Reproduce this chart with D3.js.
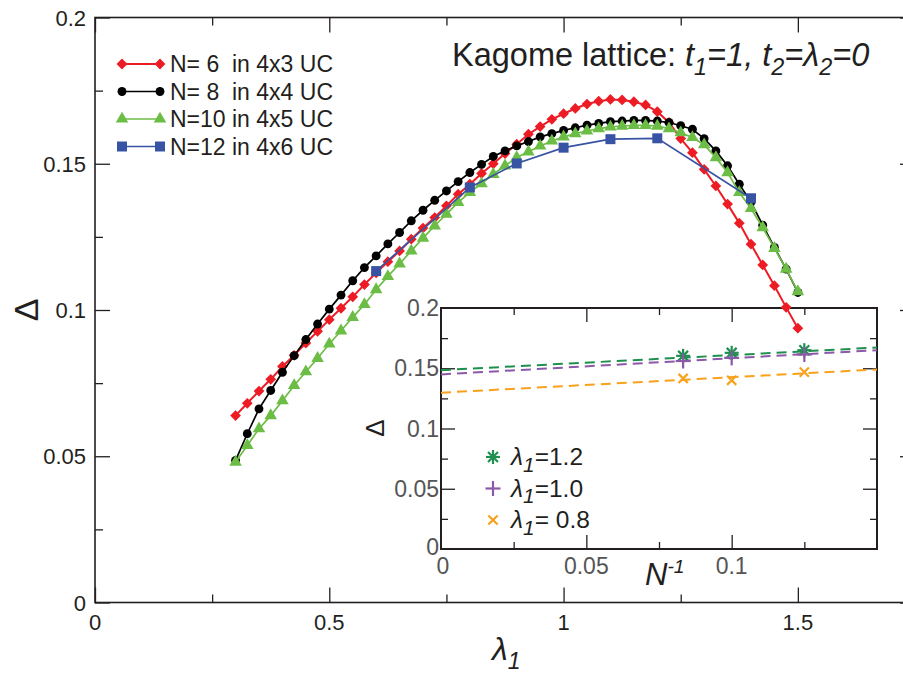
<!DOCTYPE html>
<html>
<head>
<meta charset="utf-8">
<script src="https://cdn.jsdelivr.net/npm/d3@7"></script>
<style>
  body { margin: 0; background: #fff; }
  svg { display: block; font-family: "Liberation Sans", Arial, sans-serif; }
  text { white-space: pre; }
</style>
</head>
<body>
<svg id="chart"></svg>
<script>
// lambda_1 grid of the N=6, 8, 10 runs
const lambdaGrid = [0.3, 0.325, 0.35, 0.375, 0.4, 0.425, 0.45, 0.475, 0.5, 0.525,
  0.55, 0.575, 0.6, 0.625, 0.65, 0.675, 0.7, 0.725, 0.75, 0.775,
  0.8, 0.825, 0.85, 0.875, 0.9, 0.925, 0.95, 0.975, 1.0, 1.025,
  1.05, 1.075, 1.1, 1.125, 1.15, 1.175, 1.2, 1.225, 1.25, 1.275,
  1.3, 1.325, 1.35, 1.375, 1.4, 1.425, 1.45, 1.475, 1.5];

const gapN6 = [0.0639, 0.0681, 0.0723, 0.0763, 0.0807, 0.0845, 0.0887, 0.0927, 0.0967, 0.1006,
  0.1045, 0.1087, 0.1127, 0.1165, 0.1202, 0.1242, 0.128, 0.1316, 0.1356, 0.1396,
  0.143, 0.1467, 0.15, 0.1535, 0.1567, 0.1601, 0.1627, 0.1652, 0.1671, 0.1689,
  0.1704, 0.1714, 0.172, 0.1718, 0.1712, 0.1701, 0.1678, 0.1641, 0.1586, 0.1538,
  0.1481, 0.1424, 0.1362, 0.1297, 0.1225, 0.1154, 0.1083, 0.1009, 0.0938];

const gapN8 = [0.0486, 0.0577, 0.0662, 0.0725, 0.0787, 0.0844, 0.0899, 0.0952, 0.1003, 0.1051,
  0.11, 0.1145, 0.1185, 0.1226, 0.1265, 0.1305, 0.1341, 0.1375, 0.1407, 0.1439,
  0.147, 0.1498, 0.1525, 0.1544, 0.1561, 0.1576, 0.1592, 0.1603, 0.1614, 0.1623,
  0.1632, 0.1638, 0.1644, 0.1646, 0.1648, 0.1648, 0.1646, 0.1641, 0.163, 0.1618,
  0.1586, 0.1544, 0.1493, 0.143, 0.1369, 0.129, 0.1214, 0.114, 0.106];

const gapN10 = [0.048, 0.0537, 0.0594, 0.0639, 0.069, 0.0742, 0.0789, 0.0835, 0.0884, 0.0929,
  0.0975, 0.1019, 0.107, 0.1115, 0.1158, 0.1202, 0.1246, 0.1288, 0.1328, 0.1368,
  0.1402, 0.1432, 0.1464, 0.1493, 0.1521, 0.1541, 0.1561, 0.1578, 0.1592, 0.1603,
  0.1612, 0.162, 0.1626, 0.1629, 0.1631, 0.1631, 0.1629, 0.162, 0.1606, 0.159,
  0.1565, 0.1521, 0.147, 0.1402, 0.1347, 0.1282, 0.1211, 0.114, 0.1063];

const lambdaN12 = [0.6, 0.8, 0.9, 1.0, 1.1, 1.2, 1.4];
const gapN12 = [0.1133, 0.1419, 0.1501, 0.1555, 0.1584, 0.1587, 0.1382];

const legendLabels = ["N= 6  in 4x3 UC", "N= 8  in 4x4 UC", "N=10 in 4x5 UC", "N=12 in 4x6 UC"];

// inset: finite-size scaling against 1/N (N = 12, 10, 8)
const invN = [0.0833, 0.1, 0.125];
const gapL12 = [0.1603, 0.1628, 0.165];
const gapL10 = [0.156, 0.1586, 0.1614];
const gapL08 = [0.1415, 0.140, 0.1468];
const fitX = [0, 0.15];
const fitL12 = [0.1484, 0.1672];
const fitL10 = [0.1449, 0.165];
const fitL08 = [0.1297, 0.149];
const insetLabels = ["=1.2", "=1.0", "= 0.8"];

// tick values
const xMajor = [0, 0.5, 1, 1.5];
const xMinor = [0.25, 0.75, 1.25];
const yMajor = [0, 0.05, 0.1, 0.15, 0.2];
const yMinor = [0.025, 0.075, 0.125, 0.175];
const ixMajor = [0.05, 0.1];
const ixMinor = [0.025, 0.075, 0.125];
const iyMajor = [0.05, 0.1, 0.15];
const iyMinor = [0.025, 0.075, 0.125, 0.175];
const ixLabels = [0, 0.05, 0.1];
const iyLabels = [0, 0.05, 0.1, 0.15, 0.2];

const width = 903, height = 675;
const ink = "#231f20";

const svg = d3.select("#chart").attr("width", width).attr("height", height);

const x = d3.scaleLinear().domain([0, 1.75]).range([95, 915]);
const y = d3.scaleLinear().domain([0, 0.2]).range([602.5, 17.5]);

const ix = d3.scaleLinear().domain([0, 0.15]).range([441, 877]);
const iy = d3.scaleLinear().domain([0, 0.2]).range([549, 308]);

// inward ticks on all four sides of a box
function boxTicks(g, xs, ys, xMaj, xMin, yMaj, yMin, big, small) {
  const [x0, x1] = xs.range(), [y0, y1] = ys.range();
  const add = (axis, t) => {
    const a = g.append("g").attr("transform", t).call(axis.tickFormat("").tickSizeOuter(0));
    a.select(".domain").remove();
    a.selectAll("line").attr("stroke", ink).attr("stroke-width", 1.3);
  };
  [[xMaj, big], [xMin, small]].forEach(([v, s]) => {
    add(d3.axisTop(xs).tickValues(v).tickSize(s), `translate(0,${y0})`);
    add(d3.axisBottom(xs).tickValues(v).tickSize(s), `translate(0,${y1})`);
  });
  [[yMaj, big], [yMin, small]].forEach(([v, s]) => {
    add(d3.axisRight(ys).tickValues(v).tickSize(s), `translate(${x0},0)`);
    add(d3.axisLeft(ys).tickValues(v).tickSize(s), `translate(${x1},0)`);
  });
}

// text with sub/superscripts: parts = [[text, {it, sub, sup, scale}]]
function richText(g, px, py, parts, size, opts = {}) {
  const t = g.append("text").attr("x", px).attr("y", py)
    .attr("font-size", size).attr("fill", opts.fill || ink)
    .attr("text-anchor", opts.anchor || "start");
  if (opts.rotate) t.attr("transform", `rotate(${opts.rotate},${px},${py})`);
  let shift = 0;
  parts.forEach(([s, o = {}]) => {
    const ts = t.append("tspan").text(s);
    if (o.it) ts.attr("font-style", "italic");
    let target = 0;
    if (o.sub) target = size * 0.28;
    if (o.sup) target = -size * 0.38;
    if (o.sub || o.sup) ts.attr("font-size", size * (o.scale || 0.72));
    if (target !== shift) { ts.attr("dy", target - shift); shift = target; }
  });
  return t;
}

// ---------- main frame ----------
const main = svg.append("g");
main.append("rect")
  .attr("x", 95).attr("y", y(0.2))
  .attr("width", x(1.75) - 95).attr("height", y(0) - y(0.2))
  .attr("fill", "none").attr("stroke", ink).attr("stroke-width", 1.6);
boxTicks(main, x, y, xMajor, xMinor, yMajor, yMinor, 15, 8);

main.selectAll(".xl").data(xMajor).enter().append("text")
  .attr("x", d => x(d)).attr("y", y(0) + 27)
  .attr("text-anchor", "middle").attr("font-size", 22).attr("fill", ink)
  .text(d => d3.format("")(d));
main.selectAll(".yl").data(yMajor).enter().append("text")
  .attr("x", 86).attr("y", d => y(d) + 8)
  .attr("text-anchor", "end").attr("font-size", 22).attr("fill", ink)
  .text(d => d3.format("")(d));

richText(main, 492, 660, [["λ", { it: true }], ["1", { it: true, sub: true }]], 32);
richText(main, 38, y(0.1), [["Δ"]], 34, { anchor: "middle", rotate: -90 });

richText(main, 452, 66, [["Kagome lattice: "], ["t", { it: true }], ["1", { it: true, sub: true }],
  ["=1, t", { it: true }], ["2", { it: true, sub: true }], ["=λ", { it: true }],
  ["2", { it: true, sub: true }], ["=0", { it: true }]], 32.5);

// ---------- inset ----------
const inset = svg.append("g");
inset.append("rect")
  .attr("x", ix(0)).attr("y", iy(0.2))
  .attr("width", ix(0.15) - ix(0)).attr("height", iy(0) - iy(0.2))
  .attr("fill", "#fff").attr("stroke", ink).attr("stroke-width", 2);
boxTicks(inset, ix, iy, ixMajor, ixMinor, iyMajor, iyMinor, 14, 7);

inset.selectAll(".ixl").data(ixLabels).enter().append("text")
  .attr("x", d => ix(d) + (d === 0 ? 2 : 0)).attr("y", iy(0) + 25)
  .attr("text-anchor", "middle").attr("font-size", 23).attr("fill", "#555")
  .text(d => d3.format("")(d));
inset.selectAll(".iyl").data(iyLabels).enter().append("text")
  .attr("x", ix(0) - 2).attr("y", d => iy(d) + 8 - (d === 0 ? 2 : 0))
  .attr("text-anchor", "end").attr("font-size", 23).attr("fill", "#555")
  .text(d => d3.format("")(d));

richText(inset, 645, 585, [["N", { it: true }], ["-1", { it: true, sup: true, scale: 0.62 }]], 31);
richText(inset, 384, 428, [["Δ"]], 26, { anchor: "middle", rotate: -90 });

const insetSeries = [
  { vals: gapL12, fit: fitL12, color: "#1f8f4f", mark: "star" },
  { vals: gapL10, fit: fitL10, color: "#8c59a8", mark: "plus" },
  { vals: gapL08, fit: fitL08, color: "#f7a11c", mark: "cross" }
];

function drawMark(g, kind, cx, cy, color) {
  const m = g.append("g").attr("transform", `translate(${cx},${cy})`)
    .attr("stroke", color).attr("stroke-width", 2.2).attr("fill", "none");
  const seg = (a, r) => m.append("line")
    .attr("x1", -r * Math.cos(a)).attr("y1", -r * Math.sin(a))
    .attr("x2", r * Math.cos(a)).attr("y2", r * Math.sin(a));
  if (kind === "star") [0, 45, 90, 135].forEach(a => seg(a * Math.PI / 180, 7));
  if (kind === "plus") [0, 90].forEach(a => seg(a * Math.PI / 180, 7.5));
  if (kind === "cross") [45, 135].forEach(a => seg(a * Math.PI / 180, 6.5));
}

const fitLine = d3.line().x((d, i) => ix(fitX[i])).y(d => iy(d));
insetSeries.forEach(s => {
  inset.append("path").attr("d", fitLine(s.fit))
    .attr("fill", "none").attr("stroke", s.color).attr("stroke-width", 2)
    .attr("stroke-dasharray", "10,6");
});
insetSeries.forEach(s => {
  s.vals.forEach((v, i) => drawMark(inset, s.mark, ix(invN[i]), iy(v), s.color));
});

insetSeries.forEach((s, i) => {
  const ly = 457 + i * 31.5;
  drawMark(inset, s.mark, 493, ly, s.color);
  richText(inset, 511, ly + 8, [["λ", { it: true }], ["1", { it: true, sub: true, scale: 0.85 }],
    [insetLabels[i]]], 24.5);
});

// ---------- main series ----------
const series = [
  { xs: lambdaGrid, ys: gapN6, color: "#ed1c24", sym: d3.symbolSquare, size: 58, rot: 45, lw: 2 },
  { xs: lambdaGrid, ys: gapN8, color: "#000", sym: d3.symbolCircle, size: 62, rot: 0, lw: 1.7 },
  { xs: lambdaGrid, ys: gapN10, color: "#6cbd45", sym: d3.symbolTriangle, size: 68, rot: 0, lw: 1.7 },
  { xs: lambdaN12, ys: gapN12, color: "#3953a4", sym: d3.symbolSquare, size: 100, rot: 0, lw: 1.7 }
];

const line = d3.line();
const plot = svg.append("g");
series.forEach(s => {
  const pts = s.xs.map((v, i) => [x(v), y(s.ys[i])]);
  plot.append("path").attr("d", line(pts))
    .attr("fill", "none").attr("stroke", s.color).attr("stroke-width", s.lw);
  plot.selectAll(null).data(pts).enter().append("path")
    .attr("d", d3.symbol(s.sym, s.size))
    .attr("transform", d => `translate(${d[0]},${d[1]}) rotate(${s.rot})`)
    .attr("fill", s.color);
});

// main legend
const legend = svg.append("g");
series.forEach((s, i) => {
  const ly = 64 + i * 27.5;
  legend.append("line").attr("x1", 122).attr("x2", 160).attr("y1", ly).attr("y2", ly)
    .attr("stroke", s.color).attr("stroke-width", s.lw);
  [122, 160].forEach(px => legend.append("path")
    .attr("d", d3.symbol(s.sym, s.size))
    .attr("transform", `translate(${px},${ly}) rotate(${s.rot})`)
    .attr("fill", s.color));
  legend.append("text").attr("x", 170).attr("y", ly + 8)
    .attr("font-size", 23).attr("fill", ink).text(legendLabels[i]);
});
</script>
</body>
</html>
